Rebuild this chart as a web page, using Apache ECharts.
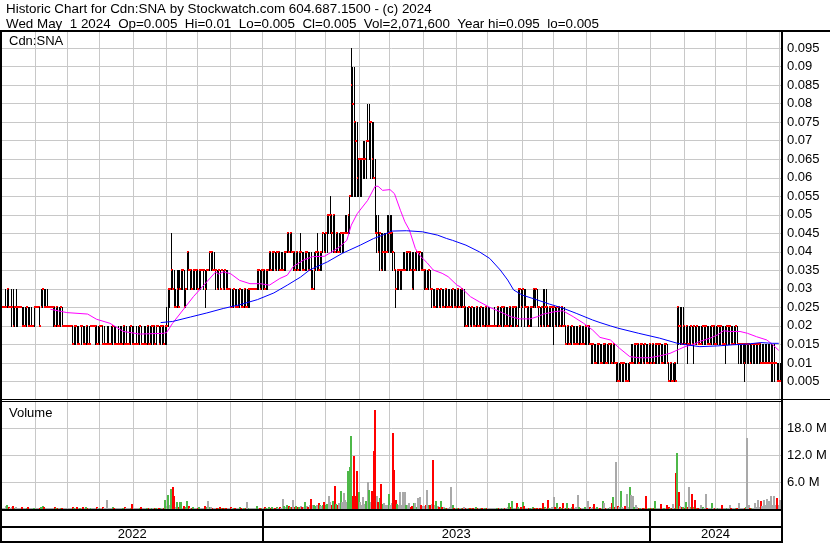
<!DOCTYPE html>
<html><head><meta charset="utf-8">
<script src="https://cdn.jsdelivr.net/npm/echarts/dist/echarts.min.js"></script>
<style>html,body{margin:0;padding:0;background:#fff}#c{width:830px;height:543px}</style>
</head><body><div id="c"></div>
<script>
// ---------- DATA ----------
const titleLine1 = 'Historic Chart for Cdn:SNA by Stockwatch.com 604.687.1500 - (c) 2024';
const titleLine2 = 'Wed May  1 2024  Op=0.005  Hi=0.01  Lo=0.005  Cl=0.005  Vol=2,071,600  Year hi=0.095  lo=0.005';
const symbolLabel = 'Cdn:SNA';
const volumeLabel = 'Volume';
const firstDay = '2022-05-02';
const lastDay = '2024-05-01';

const highs = [
.025,.025,.03,.03,.03,.025,.03,.03,.025,.03,
.025,.025,.025,.025,.025,.025,.025,.025,.025,.025,
.02,.025,.025,.025,.025,.025,.03,.03,.03,.03,
.03,.025,.025,.025,.025,.025,.025,.025,.025,.025,
.025,.02,.02,.02,.02,.02,.02,.02,.02,.02,
.02,.02,.02,.02,.02,.02,.02,.02,.02,.02,
.02,.02,.02,.02,.02,.02,.02,.02,.02,.015,
.02,.02,.015,.02,.02,.02,.02,.015,.02,.02,
.02,.02,.02,.02,.015,.02,.02,.02,.02,.015,
.02,.02,.02,.02,.015,.02,.02,.02,.02,.02,
.02,.02,.02,.02,.02,.02,.02,.02,.02,.02,
.025,.03,.03,.045,.035,.035,.03,.035,.035,.035,
.035,.035,.035,.03,.04,.04,.035,.035,.035,.035,
.035,.035,.035,.035,.035,.035,.035,.035,.035,.04,
.04,.04,.04,.035,.035,.035,.035,.035,.035,.035,
.035,.035,.03,.03,.03,.03,.03,.03,.03,.03,
.03,.03,.03,.03,.03,.03,.03,.03,.03,.03,
.03,.035,.035,.035,.035,.035,.035,.035,.035,.04,
.04,.04,.04,.04,.04,.04,.04,.04,.04,.04,
.04,.045,.045,.045,.045,.04,.04,.04,.04,.04,
.045,.04,.04,.04,.04,.04,.04,.04,.035,.04,
.04,.045,.04,.04,.04,.045,.045,.045,.05,.05,
.055,.05,.05,.05,.045,.045,.045,.045,.045,.045,
.05,.05,.05,.055,.095,.09,.09,.075,.075,.065,
.065,.065,.07,.07,.07,.08,.08,.075,.075,.075,
.065,.05,.05,.045,.045,.045,.045,.045,.05,.05,
.05,.05,.045,.04,.035,.035,.035,.035,.035,.04,
.04,.04,.04,.04,.04,.04,.04,.04,.04,.04,
.04,.04,.04,.035,.035,.035,.035,.035,.03,.03,
.03,.03,.03,.03,.03,.03,.03,.03,.03,.03,
.03,.03,.03,.03,.03,.03,.03,.03,.03,.03,
.03,.025,.025,.025,.025,.025,.025,.025,.025,.025,
.025,.025,.025,.025,.025,.025,.025,.025,.02,.02,
.025,.02,.025,.025,.025,.025,.025,.025,.025,.025,
.025,.025,.025,.025,.025,.025,.03,.03,.03,.03,
.03,.03,.025,.025,.025,.025,.03,.03,.03,.03,
.025,.025,.025,.03,.03,.03,.025,.025,.025,.025,
.025,.025,.025,.025,.025,.025,.025,.025,.02,.02,
.02,.02,.02,.02,.02,.02,.02,.02,.02,.02,
.02,.02,.02,.02,.02,.015,.015,.015,.015,.015,
.015,.015,.015,.015,.015,.015,.015,.015,.015,.015,
.015,.015,.01,.01,.01,.01,.01,.01,.01,.01,
.01,.01,.015,.015,.015,.015,.015,.015,.015,.015,
.015,.015,.015,.015,.015,.015,.015,.015,.015,.015,
.015,.015,.015,.015,.015,.015,.015,.01,.01,.01,
.01,.01,.01,.025,.025,.025,.025,.025,.02,.02,
.02,.02,.02,.02,.02,.02,.02,.02,.02,.02,
.02,.02,.02,.02,.02,.02,.02,.02,.02,.02,
.02,.02,.02,.02,.02,.02,.02,.02,.02,.02,
.02,.02,.02,.02,.015,.015,.015,.015,.015,.015,
.015,.015,.015,.015,.015,.015,.015,.015,.015,.015,
.015,.015,.015,.015,.015,.015,.015,.015,.015,.01,
.01,.01,.01
];
const lows = [
.025,.025,.025,.025,.025,.025,.02,.02,.02,.02,
.02,.025,.025,.02,.02,.02,.02,.02,.02,.02,
.02,.02,.025,.025,.025,.02,.025,.025,.025,.025,
.025,.025,.025,.025,.02,.02,.02,.02,.02,.02,
.02,.02,.02,.02,.02,.02,.02,.015,.015,.015,
.015,.015,.02,.015,.015,.015,.015,.015,.015,.02,
.02,.02,.015,.015,.015,.015,.02,.015,.015,.015,
.015,.015,.015,.015,.015,.015,.015,.015,.015,.015,
.015,.015,.015,.015,.015,.015,.015,.015,.015,.015,
.015,.015,.015,.015,.015,.015,.015,.015,.015,.015,
.015,.015,.015,.015,.02,.015,.015,.015,.015,.015,
.015,.02,.025,.03,.03,.025,.025,.025,.025,.03,
.03,.03,.025,.025,.03,.035,.03,.03,.03,.03,
.03,.03,.03,.03,.035,.03,.025,.03,.035,.035,
.035,.035,.035,.03,.03,.03,.03,.035,.03,.03,
.03,.03,.03,.025,.025,.025,.025,.025,.025,.025,
.025,.025,.025,.025,.025,.025,.025,.03,.03,.03,
.03,.03,.03,.03,.03,.03,.03,.03,.03,.035,
.035,.035,.035,.035,.035,.035,.035,.035,.035,.035,
.035,.04,.04,.04,.04,.035,.035,.035,.035,.035,
.035,.035,.035,.035,.035,.035,.035,.03,.03,.03,
.035,.035,.035,.035,.035,.04,.04,.04,.04,.045,
.045,.04,.04,.04,.04,.04,.04,.04,.04,.04,
.045,.045,.045,.045,.055,.055,.055,.055,.055,.055,
.055,.055,.06,.06,.06,.07,.065,.06,.06,.06,
.045,.04,.04,.035,.035,.035,.035,.035,.04,.04,
.04,.04,.035,.035,.025,.03,.03,.03,.03,.035,
.035,.035,.035,.035,.035,.03,.03,.035,.035,.035,
.035,.035,.035,.03,.03,.03,.03,.03,.025,.025,
.025,.025,.025,.025,.025,.025,.025,.025,.025,.025,
.025,.025,.025,.025,.025,.025,.025,.025,.025,.025,
.02,.02,.02,.02,.02,.02,.02,.02,.02,.02,
.02,.02,.02,.02,.02,.02,.02,.02,.02,.02,
.02,.02,.02,.02,.02,.02,.02,.02,.02,.02,
.02,.02,.02,.02,.02,.02,.02,.025,.02,.025,
.02,.025,.02,.02,.02,.02,.025,.025,.025,.025,
.02,.02,.02,.02,.02,.02,.02,.02,.02,.02,
.015,.02,.02,.02,.02,.02,.02,.02,.015,.015,
.015,.015,.015,.015,.015,.015,.015,.015,.015,.015,
.015,.015,.015,.015,.015,.01,.01,.01,.01,.01,
.01,.01,.01,.01,.01,.01,.01,.01,.01,.01,
.01,.01,.005,.005,.005,.005,.005,.005,.005,.005,
.005,.005,.01,.01,.01,.01,.01,.01,.01,.01,
.01,.01,.01,.01,.01,.01,.01,.01,.01,.01,
.01,.01,.01,.01,.01,.01,.01,.005,.005,.005,
.005,.005,.005,.01,.015,.015,.015,.015,.015,.015,
.01,.015,.015,.015,.01,.015,.015,.015,.015,.015,
.015,.015,.015,.015,.015,.015,.015,.015,.015,.015,
.015,.015,.015,.015,.015,.01,.015,.015,.015,.015,
.015,.015,.015,.015,.01,.01,.01,.01,.005,.01,
.01,.01,.01,.01,.01,.01,.01,.01,.01,.01,
.01,.01,.01,.01,.01,.01,.005,.005,.005,.01,
.005,.005,.005
];
const closes = [
.025,.025,.025,.03,.025,.025,.025,.02,.025,.025,
.025,.025,.025,.02,.02,.02,.025,.02,.02,.02,
.02,.025,.025,.025,.025,.02,.025,.03,.025,.025,
.025,.025,.025,.025,.025,.02,.025,.02,.02,.025,
.02,.02,.02,.02,.02,.02,.02,.015,.02,.02,
.015,.015,.02,.02,.015,.015,.02,.015,.015,.02,
.02,.02,.02,.015,.015,.02,.02,.015,.015,.015,
.015,.015,.015,.015,.02,.015,.015,.015,.015,.015,
.015,.02,.015,.015,.015,.015,.02,.015,.015,.015,
.015,.015,.02,.015,.015,.015,.015,.02,.015,.015,
.02,.02,.015,.02,.02,.015,.02,.02,.015,.02,
.02,.03,.03,.035,.03,.025,.025,.03,.025,.03,
.035,.035,.025,.03,.04,.035,.035,.03,.035,.035,
.035,.03,.035,.035,.035,.035,.03,.035,.035,.04,
.04,.035,.035,.035,.03,.035,.03,.035,.03,.035,
.03,.03,.03,.025,.025,.03,.025,.025,.025,.03,
.025,.025,.03,.025,.025,.03,.03,.03,.03,.03,
.03,.035,.035,.03,.035,.035,.03,.035,.035,.04,
.035,.04,.04,.035,.04,.04,.035,.035,.035,.04,
.04,.045,.04,.045,.04,.04,.035,.04,.035,.04,
.04,.035,.035,.04,.04,.035,.035,.03,.03,.035,
.04,.04,.035,.04,.04,.045,.04,.045,.05,.05,
.05,.045,.05,.04,.045,.04,.04,.045,.045,.045,
.045,.045,.05,.055,.085,.08,.075,.07,.06,.065,
.065,.065,.065,.065,.07,.07,.075,.075,.065,.06,
.045,.045,.04,.045,.035,.04,.04,.04,.04,.045,
.045,.045,.04,.035,.03,.035,.035,.035,.035,.035,
.035,.04,.04,.04,.035,.03,.035,.035,.04,.04,
.04,.035,.035,.035,.03,.03,.035,.03,.03,.025,
.025,.03,.03,.025,.03,.025,.025,.03,.025,.025,
.025,.025,.03,.025,.025,.03,.025,.025,.03,.025,
.025,.02,.02,.025,.02,.025,.02,.02,.025,.02,
.02,.025,.02,.02,.025,.02,.02,.02,.02,.02,
.02,.02,.025,.02,.02,.025,.025,.02,.02,.02,
.025,.02,.025,.025,.025,.02,.03,.03,.025,.03,
.025,.025,.025,.02,.025,.025,.03,.025,.03,.025,
.025,.02,.025,.02,.025,.025,.02,.025,.025,.025,
.025,.02,.025,.025,.02,.025,.02,.02,.015,.02,
.015,.015,.02,.015,.015,.015,.015,.02,.015,.015,
.015,.02,.02,.02,.015,.015,.015,.01,.01,.015,
.015,.01,.01,.015,.015,.01,.01,.015,.015,.01,
.015,.01,.01,.005,.005,.01,.01,.01,.005,.005,
.005,.01,.01,.01,.015,.015,.015,.01,.015,.015,
.01,.015,.01,.01,.015,.01,.015,.01,.015,.015,
.015,.015,.01,.01,.015,.015,.01,.005,.01,.005,
.005,.01,.005,.025,.02,.02,.015,.02,.015,.02,
.015,.015,.02,.015,.02,.015,.02,.015,.015,.015,
.02,.02,.02,.015,.015,.015,.02,.02,.015,.015,
.02,.02,.02,.015,.015,.015,.02,.02,.02,.015,
.015,.015,.02,.015,.015,.015,.015,.015,.01,.015,
.015,.015,.01,.015,.015,.015,.015,.015,.015,.01,
.01,.01,.01,.01,.01,.01,.01,.01,.01,.01,
.005,.005,.005
];
// volume in millions of shares
const volumes = [
0.3,0.2,0.6,0.8,0.5,0.1,0.4,0.7,0.3,0.5,
0.3,0.1,0.2,0.4,0.3,0.2,0.3,0.4,0.2,0.1,
0.1,0.3,0.1,0.2,0.1,0.3,0.5,0.6,0.4,0.2,
0.3,0.1,0.2,0.1,0.3,0.4,0.2,0.3,0.2,0.3,
0.3,0.1,0.2,0.1,0.2,0.1,0.2,0.4,0.3,0.2,
0.4,0.3,0.1,0.3,0.4,0.2,0.5,0.3,0.2,0.1,
0.1,0.2,0.3,0.4,0.2,0.3,0.1,0.4,0.3,0.1,
2.0,0.2,0.1,0.3,0.4,0.3,0.2,0.1,0.2,0.3,
0.2,0.3,0.4,0.2,0.1,0.3,0.2,1.1,0.2,0.1,
0.2,0.3,0.2,0.4,0.1,0.2,0.3,0.2,0.3,0.2,
0.3,0.2,0.3,0.2,0.1,0.3,0.2,0.3,0.2,2.1,
0.6,3.1,1.0,4.5,5.0,2.8,0.5,1.5,0.4,1.5,
1.5,0.3,0.7,0.4,1.7,0.7,0.3,0.3,0.4,0.2,
0.3,0.2,0.5,0.2,0.1,0.3,0.6,0.4,1.7,0.5,
0.4,0.3,0.2,0.3,0.2,0.3,0.4,0.1,0.3,0.2,
0.3,0.2,0.1,0.4,0.2,0.3,0.2,0.3,0.1,0.4,
0.3,0.2,0.3,0.2,1.5,0.2,0.3,0.1,0.1,0.2,
0.1,0.7,0.3,0.2,0.3,0.2,0.4,0.3,0.2,0.5,
0.3,0.4,0.3,0.2,0.5,0.3,0.4,0.3,2.3,0.6,
0.4,1.0,0.6,0.5,0.4,2.1,0.5,0.6,0.4,0.5,
0.6,0.5,0.4,1.5,0.7,0.5,0.8,2.3,0.9,0.8,
0.7,0.9,1.3,0.8,0.6,1.0,1.5,0.9,1.2,3.0,
1.5,1.0,1.8,5.2,1.2,1.0,1.4,4.1,1.5,3.6,
2.0,1.6,8.4,9.3,16.2,3.0,11.7,3.0,8.5,3.8,
1.5,1.0,2.7,1.2,1.8,6.0,4.3,1.5,3.9,13.0,
21.9,3.0,1.5,2.4,5.6,1.2,1.3,0.8,1.0,3.3,
1.0,1.4,17.0,8.7,2.0,1.2,1.0,3.7,1.0,3.7,
3.8,1.0,0.8,1.3,0.5,0.6,1.4,1.3,0.5,2.4,
2.6,1.0,0.7,0.6,0.9,4.3,1.0,0.8,1.2,10.8,
0.9,1.7,0.6,0.5,1.7,0.5,0.4,0.3,0.3,0.2,
0.5,5.0,1.0,0.3,0.2,0.3,0.2,0.3,0.2,0.3,
0.4,0.3,0.2,0.3,0.2,0.3,0.2,0.2,0.4,0.3,
0.2,0.3,0.2,0.3,0.2,0.3,0.2,0.1,0.1,0.1,
0.2,0.1,0.3,0.2,0.3,0.2,0.2,0.3,0.2,0.4,
1.3,0.4,1.7,0.3,0.2,1.3,0.5,0.3,0.4,1.5,
0.6,0.3,0.2,0.3,0.2,0.3,0.4,0.3,0.2,0.3,
0.2,0.3,0.2,1.3,0.5,0.3,1.9,0.3,0.2,0.4,
2.6,0.4,1.3,0.3,0.4,0.3,1.3,0.3,0.3,1.3,
0.3,0.2,0.4,1.1,0.3,0.4,3.2,0.5,0.3,0.2,
0.3,0.4,0.2,1.7,0.5,0.3,0.4,1.1,0.3,0.4,
0.3,0.2,0.3,1.7,1.3,0.3,0.2,0.3,0.4,1.3,
2.6,0.5,10.4,0.7,0.4,4.1,0.5,0.3,0.7,3.3,
0.4,4.8,3.2,2.8,0.5,0.8,0.4,0.2,0.3,0.2,
0.3,0.2,2.8,0.3,0.2,0.3,0.2,0.3,1.7,0.3,
0.2,0.3,1.1,0.3,0.2,0.3,1.0,0.4,0.3,0.3,
1.1,0.3,7.9,12.5,3.7,0.6,0.5,0.4,0.3,1.5,
0.5,5.0,0.5,3.3,0.4,1.9,0.3,0.2,0.3,1.0,
0.4,0.3,3.3,0.3,0.2,0.3,1.3,0.3,0.2,0.2,
0.3,0.2,0.3,1.0,0.2,0.3,0.2,0.3,1.0,0.2,
0.3,0.2,0.3,0.2,1.3,0.3,0.2,0.3,0.3,0.4,
15.8,1.0,0.2,0.3,0.2,1.3,0.4,1.9,0.5,1.7,
0.6,2.1,0.8,2.3,1.7,1.7,2.8,0.8,2.8,0.9,
2.4,1.0,2.07
];
// moving averages: [trading-day index, value]
const maShort = [[32,.0245],[43,.0236],[57,.0232],[63,.0218],[72,.0207],[81,.0185],[92,.0178],[108,.018],[110,.0182],[114,.0207],[121,.0243],[128,.0279],[137,.0319],[143,.0346],[145,.034],[148,.0346],[153,.0341],[159,.0323],[166,.0314],[173,.0314],[179,.031],[186,.0328],[191,.0337],[195,.036],[202,.0378],[208,.0387],[216,.0388],[221,.04],[226,.0413],[231,.0431],[234,.0472],[238,.0503],[245,.0539],[250,.0577],[252,.0577],[255,.0566],[260,.0568],[263,.0557],[267,.0512],[270,.0481],[273,.0459],[277,.0409],[280,.039],[285,.037],[289,.0351],[295,.0342],[299,.0333],[305,.031],[307,.0306],[314,.0279],[320,.0265],[327,.025],[334,.0238],[341,.0225],[347,.0219],[354,.0219],[359,.0225],[363,.0232],[370,.0238],[376,.0241],[383,.0225],[390,.0207],[396,.0189],[401,.0169],[408,.0162],[414,.014],[421,.0117],[427,.0114],[434,.0114],[441,.0119],[448,.0126],[453,.0135],[458,.0144],[463,.0149],[468,.0158],[475,.0167],[480,.0176],[484,.0187],[488,.0185],[495,.0185],[500,.018],[506,.0171],[513,.0162],[517,.0149],[521,.0134]];
const maLong = [[106,.0209],[114,.0212],[126,.0224],[137,.0235],[148,.0247],[159,.0257],[171,.0271],[182,.0289],[191,.031],[200,.0332],[206,.0351],[218,.0373],[228,.0396],[240,.0418],[249,.0436],[255,.0445],[261,.0456],[271,.0457],[282,.0454],[292,.0445],[298,.0436],[302,.0431],[311,.0418],[320,.04],[327,.0382],[334,.0351],[339,.0324],[343,.0297],[349,.0283],[359,.027],[367,.0259],[376,.0248],[385,.0234],[396,.0216],[401,.0209],[408,.02],[413,.0194],[427,.018],[441,.0167],[453,.0153],[459,.0149],[468,.0144],[480,.0146],[490,.0149],[500,.0151],[509,.0155],[517,.0153],[521,.0153]];

// ---------- build ----------
const dates = [];
for (let t = Date.parse(firstDay + 'T00:00:00Z'); t <= Date.parse(lastDay + 'T00:00:00Z'); t += 86400000) {
  const d = new Date(t); const wd = d.getUTCDay();
  if (wd > 0 && wd < 6) dates.push(d.toISOString().slice(0, 10));
}
const monthStart = dates.map((d, i) => i > 0 && d.slice(0, 7) !== dates[i - 1].slice(0, 7));
const priceData = highs.map((h, i) => [i, h, lows[i], closes[i]]);
const volData = volumes.map((v, i) => [i, v, i === 0 ? 0 : Math.sign(closes[i] - closes[i - 1])]);

const FONT = '"Liberation Sans", Arial, sans-serif';
const GRID_COLOR = '#c8c8c8';
const PRICE_MAX = 0.09962;

function catAxis(g) {
  return {
    type: 'category', gridIndex: g, data: dates, boundaryGap: true,
    axisLine: { show: false }, axisLabel: { show: false },
    axisTick: { show: false, interval: (i) => monthStart[i] },
    splitLine: { show: true, interval: (i) => monthStart[i], lineStyle: { color: GRID_COLOR, width: 1 } }
  };
}

const chart = echarts.init(document.getElementById('c'), null, { renderer: 'canvas', width: 830, height: 543 });
chart.setOption({
  animation: false,
  backgroundColor: '#ffffff',
  grid: [
    { left: 2, top: 31, width: 779, height: 369 },
    { left: 2, top: 401, width: 779, height: 108 }
  ],
  xAxis: [catAxis(0), catAxis(1)],
  yAxis: [
    { type: 'value', gridIndex: 0, position: 'right', min: 0, max: PRICE_MAX, interval: 0.005,
      axisLine: { show: false }, axisTick: { show: false },
      axisLabel: { margin: 6, fontSize: 13, fontFamily: FONT, color: '#000',
        formatter: (v) => (v < 0.001 || v > 0.0955) ? '' : String(+v.toFixed(3)) },
      splitLine: { lineStyle: { color: GRID_COLOR, width: 1 } } },
    { type: 'value', gridIndex: 1, position: 'right', min: 0, max: 24, interval: 6,
      axisLine: { show: false }, axisTick: { show: false },
      axisLabel: { margin: 6, fontSize: 13, fontFamily: FONT, color: '#000',
        formatter: (v) => (v > 0 && v < 20) ? v.toFixed(1) + ' M' : '' },
      splitLine: { lineStyle: { color: GRID_COLOR, width: 1 } } }
  ],
  series: [
    { type: 'custom', xAxisIndex: 0, yAxisIndex: 0, data: priceData, encode: { x: 0, y: [1, 2, 3] }, z: 2,
      renderItem: (params, api) => {
        const i = api.value(0);
        const top = api.coord([i, api.value(1)]);
        const bot = api.coord([i, api.value(2)]);
        const cl = api.coord([i, api.value(3)]);
        const x = Math.round(top[0] - 0.5);
        const yt = Math.round(top[1]), yb = Math.round(bot[1]);
        const kids = [];
        if (yb > yt) kids.push({ type: 'rect', shape: { x: x, y: yt, width: 1, height: yb - yt + 1 }, style: { fill: '#000' } });
        kids.push({ type: 'rect', shape: { x: x, y: Math.round(cl[1]) - 1, width: 2, height: 2 }, style: { fill: '#ff0000' } });
        return { type: 'group', children: kids };
      } },
    { type: 'line', xAxisIndex: 0, yAxisIndex: 0, data: maShort, symbol: 'none', z: 4,
      lineStyle: { color: '#ff00ff', width: 1 } },
    { type: 'line', xAxisIndex: 0, yAxisIndex: 0, data: maLong, symbol: 'none', z: 4,
      lineStyle: { color: '#0000ff', width: 1 } },
    { type: 'custom', xAxisIndex: 1, yAxisIndex: 1, data: volData, encode: { x: 0, y: 1 }, z: 2,
      renderItem: (params, api) => {
        const i = api.value(0), v = api.value(1), d = api.value(2);
        const p = api.coord([i, v]);
        const base = Math.round(api.coord([i, 0])[1]);
        const h = Math.max(1, base - Math.round(p[1]));
        const col = d > 0 ? '#4db848' : (d < 0 ? '#ff0000' : '#a9a9a9');
        return { type: 'rect', shape: { x: Math.round(p[0] - 1), y: base - h, width: 2, height: h }, style: { fill: col } };
      } }
  ]
});

// frame, texts and year band
const px = (i) => chart.convertToPixel({ xAxisIndex: 1 }, i);
const band = px(1) - px(0);
const yearStarts = [];
dates.forEach((d, i) => { if (i === 0 || d.slice(0, 4) !== dates[i - 1].slice(0, 4)) yearStarts.push(i); });
const edges = yearStarts.map((i) => i === 0 ? 2 : px(i) - band / 2).concat([781]);

const R = (x, y, w, h, fill) => ({ type: 'rect', z: 50, shape: { x, y, width: w, height: h }, style: { fill } });
const T = (x, y, text, align, size) => ({ type: 'text', z: 51, x, y,
  style: { text, font: (size || 13) + 'px ' + FONT, fill: '#000', align: align || 'left', verticalAlign: 'middle',
           textAlign: align || 'left', textVerticalAlign: 'middle' } });

const g = [
  R(0, 30, 830, 2, '#000'),
  R(0, 30, 2, 513, '#000'),
  R(781, 30, 2, 513, '#000'),
  R(2, 400, 779, 1, '#fff'),
  R(0, 399, 830, 1, '#000'),
  R(0, 401, 781, 1, '#000'),
  R(0, 509, 781, 2, '#000'),
  R(0, 526, 781, 2, '#000'),
  R(0, 541, 781, 2, '#000'),
  T(6, 9, titleLine1, 'left', 13.4),
  T(6, 24, titleLine2, 'left', 13.4),
  T(9, 41, symbolLabel),
  T(9, 413, volumeLabel)
];
for (let k = 1; k < edges.length - 1; k++) g.push(R(Math.round(edges[k]) - 1, 511, 2, 30, '#000'));
for (let k = 0; k < yearStarts.length; k++) {
  g.push(T((edges[k] + edges[k + 1]) / 2, 534.5, dates[yearStarts[k]].slice(0, 4), 'center'));
}
chart.setOption({ graphic: g });
</script>
</body></html>
